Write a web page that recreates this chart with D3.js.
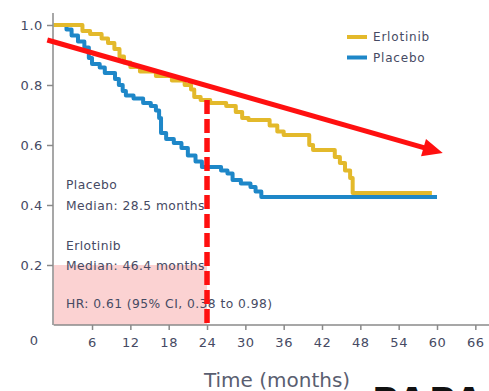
<!DOCTYPE html>
<html>
<head>
<meta charset="utf-8">
<script src="https://cdn.jsdelivr.net/npm/d3@7"></script>
<style>
  html, body { margin: 0; padding: 0; background: #fff; }
  svg { display: block; }
  text { font-family: "DejaVu Sans", Arial, sans-serif; }
</style>
</head>
<body>
<svg id="chart" width="489" height="391"></svg>
<script>
// Kaplan–Meier step data (months, survival proportion)
const erlotinibTime = [0, 4.5, 5.7, 7.5, 8.5, 9.5, 10.3, 11.0, 12.0, 13.5, 16.0, 18.5, 20.5, 21.5, 22.0, 23.0, 24.5, 27.0, 28.5, 29.5, 30.5, 33.8, 35.0, 36.0, 40.0, 40.6, 44.0, 44.8, 45.6, 46.4, 46.8, 59.2];
const erlotinibSurv = [1.0, 0.98, 0.97, 0.955, 0.94, 0.92, 0.895, 0.875, 0.86, 0.845, 0.83, 0.815, 0.8, 0.785, 0.76, 0.75, 0.74, 0.73, 0.71, 0.69, 0.683, 0.665, 0.645, 0.633, 0.6, 0.583, 0.56, 0.54, 0.515, 0.49, 0.44, 0.44];

const placeboTime = [0, 2.0, 2.8, 3.8, 4.8, 5.5, 6.0, 7.2, 8.0, 9.6, 10.2, 10.8, 11.3, 12.5, 14.0, 15.2, 16.0, 16.5, 16.8, 17.6, 18.8, 20.0, 21.0, 22.2, 23.2, 26.2, 27.2, 28.0, 29.3, 30.8, 31.6, 32.5, 60];
const placeboSurv = [1.0, 0.985, 0.965, 0.945, 0.925, 0.89, 0.87, 0.858, 0.84, 0.82, 0.8, 0.78, 0.765, 0.755, 0.74, 0.73, 0.715, 0.69, 0.64, 0.62, 0.607, 0.59, 0.565, 0.545, 0.527, 0.515, 0.505, 0.483, 0.472, 0.46, 0.445, 0.427, 0.427];

const xTicks = [6, 12, 18, 24, 30, 36, 42, 48, 54, 60, 66];
const yTicks = [0.2, 0.4, 0.6, 0.8, 1.0];
const seriesNames = ["Erlotinib", "Placebo"];
const seriesColors = ["#e3b92b", "#1e87c8"];

const notes = [
  { text: "Placebo", s: 0.467 },
  { text: "Median: 28.5 months", s: 0.397 },
  { text: "Erlotinib", s: 0.263 },
  { text: "Median: 46.4 months", s: 0.197 },
  { text: "HR: 0.61 (95% CI, 0.38 to 0.98)", s: 0.07 }
];

// Annotation: landmark month and trend arrow endpoints
const landmarkMonth = 24;
const landmarkSurv = 0.75;
const shadeSurv = 0.2;
const arrowStart = [-1, 0.95];
const arrowEnd = [60.9, 0.573];

const svg = d3.select("#chart");
const x = d3.scaleLinear().domain([0, 60]).range([53.7, 437]);
const y = d3.scaleLinear().domain([0, 1]).range([325, 25]);

const textColor = "#464a63";

// shaded region up to the landmark
svg.append("rect")
  .attr("x", x(0)).attr("y", y(shadeSurv))
  .attr("width", x(landmarkMonth) - x(0))
  .attr("height", y(0) - y(shadeSurv))
  .attr("fill", "#fbd2d2");

// axes
const xAxis = svg.append("g").attr("transform", `translate(0,${y(0)})`)
  .call(d3.axisBottom(x).tickValues(xTicks).tickSize(5).tickPadding(8));
xAxis.select(".domain").attr("d", `M${x(0)},0H489`);
const yAxis = svg.append("g").attr("transform", `translate(${x(0) - 0.7},0)`)
  .call(d3.axisLeft(y).tickValues(yTicks).tickSize(6).tickPadding(4).tickFormat(d3.format(".1f")));
yAxis.select(".domain").attr("d", `M0,13V${y(0)}`);
[xAxis, yAxis].forEach(g => {
  g.selectAll(".domain").attr("stroke", "#8a8a8a").attr("stroke-width", 1.5);
  g.selectAll(".tick line").attr("stroke", "#8a8a8a").attr("stroke-width", 1.5);
  g.selectAll(".tick text").attr("fill", textColor).attr("font-size", 13)
    .attr("letter-spacing", 0.6)
    .attr("font-family", "DejaVu Sans, Arial, sans-serif");
});
// origin label sits left of the axis
svg.append("text").attr("x", 34).attr("y", y(0)).attr("dy", "1.5em")
  .attr("text-anchor", "middle").attr("fill", textColor).attr("font-size", 13).text("0");

// survival curves
const line = d3.line().curve(d3.curveStepAfter).x(d => x(d[0])).y(d => y(d[1]));
const series = [
  d3.zip(erlotinibTime, erlotinibSurv),
  d3.zip(placeboTime, placeboSurv)
];
// placebo drawn first, erlotinib over it
[1, 0].forEach(i => {
  svg.append("path").datum(series[i])
    .attr("d", line).attr("fill", "none")
    .attr("stroke", seriesColors[i]).attr("stroke-width", 4)
    .attr("stroke-linejoin", "round");
});

// notes inside the plot
svg.selectAll(".note").data(notes).enter().append("text")
  .attr("class", "note")
  .attr("x", 66).attr("y", d => y(d.s)).attr("dy", "0.35em")
  .attr("fill", textColor).attr("font-size", 12.3)
  .attr("letter-spacing", 0.45)
  .text(d => d.text);

// landmark dashed line
svg.append("line")
  .attr("x1", x(landmarkMonth)).attr("x2", x(landmarkMonth))
  .attr("y1", y(landmarkSurv)).attr("y2", y(0))
  .attr("stroke", "#ff1010").attr("stroke-width", 5.5)
  .attr("stroke-dasharray", "14,5");

// trend arrow
const ax0 = x(arrowStart[0]), ay0 = y(arrowStart[1]);
const ax1 = x(arrowEnd[0]), ay1 = y(arrowEnd[1]);
const ang = Math.atan2(ay1 - ay0, ax1 - ax0);
const headLen = 20, headW = 9;
const bx = ax1 - headLen * Math.cos(ang), by = ay1 - headLen * Math.sin(ang);
svg.append("line")
  .attr("x1", ax0).attr("y1", ay0).attr("x2", bx + 2 * Math.cos(ang)).attr("y2", by + 2 * Math.sin(ang))
  .attr("stroke", "#ff1010").attr("stroke-width", 5);
svg.append("path")
  .attr("d", `M${ax1},${ay1}L${bx - headW * Math.sin(ang)},${by + headW * Math.cos(ang)}L${bx + headW * Math.sin(ang)},${by - headW * Math.cos(ang)}Z`)
  .attr("fill", "#ff1010");

// legend
const legend = svg.append("g").attr("transform", "translate(347,37)");
seriesNames.forEach((name, i) => {
  const g = legend.append("g").attr("transform", `translate(0,${i * 20.5})`);
  g.append("line").attr("x1", 0).attr("x2", 20).attr("stroke", seriesColors[i]).attr("stroke-width", 4);
  g.append("text").attr("x", 26).attr("dy", "0.35em").attr("fill", textColor)
    .attr("font-size", 12).attr("letter-spacing", 0.8).text(name);
});

// axis title
svg.append("text").attr("x", 277).attr("y", 387)
  .attr("text-anchor", "middle").attr("fill", "#5a5e70")
  .attr("font-family", "Liberation Sans Narrow, Arial, sans-serif")
  .attr("font-size", 20).text("Time (months)");

// heading below, cut by the page edge
svg.append("text").attr("x", 372).attr("y", 413)
  .attr("fill", "#111").attr("font-weight", "bold")
  .attr("font-family", "Liberation Sans, Arial, sans-serif")
  .attr("font-size", 36).attr("letter-spacing", 3).text("PAPA");
</script>
</body>
</html>
